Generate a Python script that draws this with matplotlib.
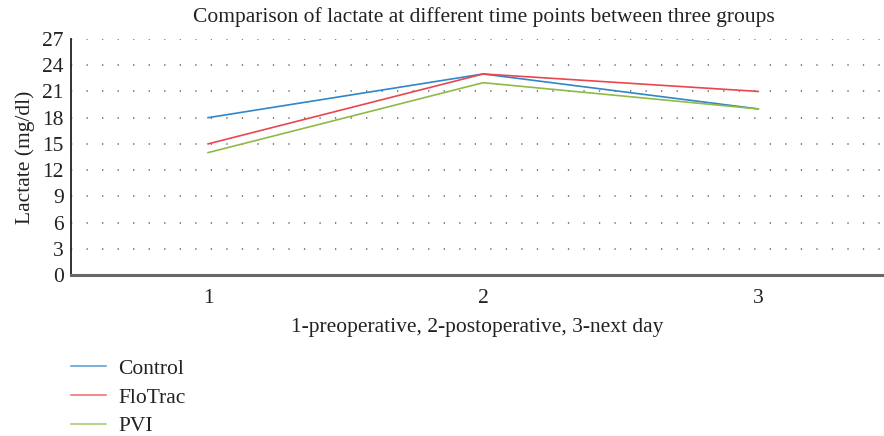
import matplotlib
matplotlib.use("Agg")
import matplotlib.pyplot as plt

time_points = [1, 2, 3]
control = [18, 23, 19]
flotrac = [15, 23, 21]
pvi = [14, 22, 19]
y_ticks = [0, 3, 6, 9, 12, 15, 18, 21, 24, 27]
series_names = ["Control", "FloTrac", "PVI"]
colors = ["#2f86c8", "#e8474f", "#8dbb45"]

plt.rcParams['font.family'] = ['Liberation Serif', 'DejaVu Serif']
FS = 15.5

fig = plt.figure(figsize=(8.84, 4.36), dpi=100)
ax = fig.add_axes([70.5/884, 1-275/436, 1-70.5/884, (275-39)/436])

handles = []
for vals, c, n in zip([control, flotrac, pvi], colors, series_names):
    h, = ax.plot(time_points, vals, color=c, lw=1.2, label=n)
    handles.append(h)

ax.set_xlim(0.5, 3.457)
ax.set_ylim(0, 27)
ax.set_yticks(y_ticks)
ax.set_xticks(time_points)
ax.tick_params(axis='both', length=0, labelsize=FS, colors='#222222')
ax.tick_params(axis='y', pad=5)
ax.tick_params(axis='x', pad=10)
ax.yaxis.grid(True, color='#777777', linewidth=1.3, linestyle=(0, (0.7, 7.9)))
ax.set_axisbelow(True)
for s in ['top', 'right']:
    ax.spines[s].set_visible(False)
ax.spines['left'].set_color('#222222')
ax.spines['left'].set_linewidth(1.3)
ax.spines['bottom'].set_color('#666666')
ax.spines['bottom'].set_linewidth(2.2)

ax.set_ylabel("Lactate (mg/dl)", fontsize=FS, color='#222222', labelpad=5)
ax.set_xlabel("1-preoperative, 2-postoperative, 3-next day", fontsize=FS, color='#222222', labelpad=7)
fig.text(484/884, 1-17/436, "Comparison of lactate at different time points between three groups",
         ha='center', va='center', fontsize=FS, color='#222222')

leg = fig.legend(handles=handles, labels=series_names, loc='upper left',
                 bbox_to_anchor=(62/884, 1-350/436), frameon=False, fontsize=FS,
                 handlelength=1.63, handletextpad=0.6, labelspacing=0.41, borderaxespad=0)
for line in leg.get_lines():
    line.set_alpha(0.75)
    line.set_linewidth(1.2)
for t in leg.get_texts():
    t.set_color('#222222')

fig.savefig("out.png", dpi=100)
